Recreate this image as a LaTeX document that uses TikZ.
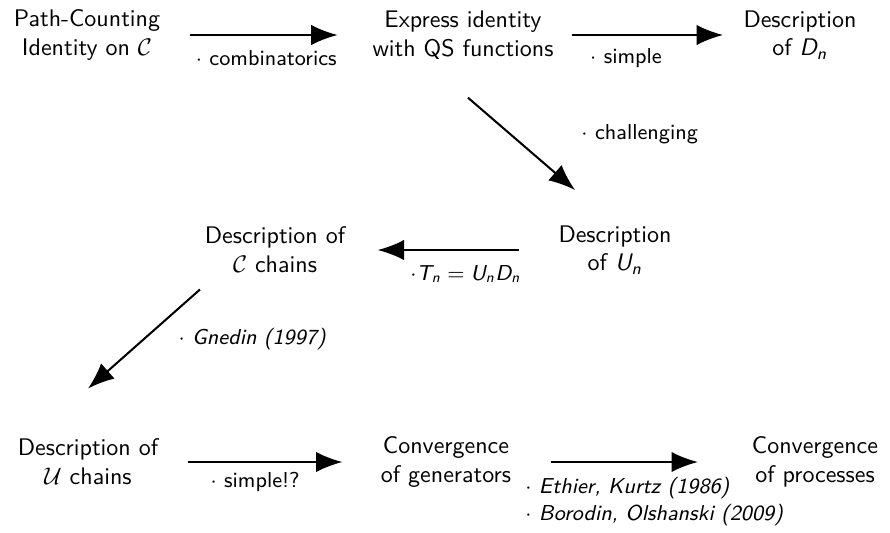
\documentclass[tikz,border=0pt]{standalone}
\usepackage{tikz}
\usetikzlibrary{arrows.meta,calc}
\renewcommand{\familydefault}{\sfdefault}
\DeclareSymbolFont{letters}{OT1}{cmss}{m}{sl}

\tikzset{
  box/.style={align=center},
  arr/.style={line width=0.85pt, -{Latex[length=11pt,width=8.5pt]}},
  lab/.style={font=\small, inner sep=2pt}
}

\begin{document}
\begin{tikzpicture}[x=0.4167pt, y=-0.4167pt]
    \useasboundingbox (0,0) rectangle (890,532);

    \node[box] (pci) at (87,35) {Path-Counting\\Identity on $\mathcal{C}$};
    \node[box] (qs) at (463,35) {Express identity\\with QS functions};
    \node[box] (dn) at (800,35) {Description\\of $D_n$};
    \node[box] (un) at (615,250) {Description\\of $U_n$};
    \node[box] (cch) at (275,250) {Description of\\$\mathcal{C}$ chains};
    \node[box] (uch) at (88,462) {Description of\\$\mathcal{U}$ chains};
    \node[box] (gen) at (446,462) {Convergence\\of generators};
    \node[box] (proc) at (815,462) {Convergence\\of processes};

    \draw[arr, shorten <=9pt, shorten >=11pt] (pci) -- node[lab, below=4pt, pos=0.5] {$\cdot$ combinatorics} (qs);
    \draw[arr, shorten <=4pt, shorten >=5pt] (qs) -- node[lab, below=3pt, pos=0.37] {$\cdot$ simple} (dn);
    \draw[arr] ($(qs.south)+(5,30)$) -- node[lab, right=27pt, pos=0.4] {$\cdot$ challenging} ($(un.north west)+(25,-27)$);
    \draw[arr, shorten <=13pt, shorten >=10pt] (un) -- node[lab, below=4pt, pos=0.43] {$\cdot T_n = U_nD_n$} (cch);
    \draw[arr] ($(cch.south)+(-75,8)$) -- node[lab, right=12pt, pos=0.5] {$\cdot$ \textit{Gnedin (1997)}} ($(uch.north)+(0,-42)$);
    \draw[arr, shorten <=9pt, shorten >=12.5pt] (uch) -- node[lab, below=2pt, pos=0.43] {$\cdot$ simple!?} (gen);
    \draw[arr, shorten <=13pt, shorten >=19pt] (gen) -- node[lab, below=4pt, pos=0, anchor=north west, align=left] {$\cdot$ \textit{Ethier, Kurtz (1986)}\\$\cdot$ \textit{Borodin, Olshanski (2009)}} (proc);
\end{tikzpicture}
\end{document}
